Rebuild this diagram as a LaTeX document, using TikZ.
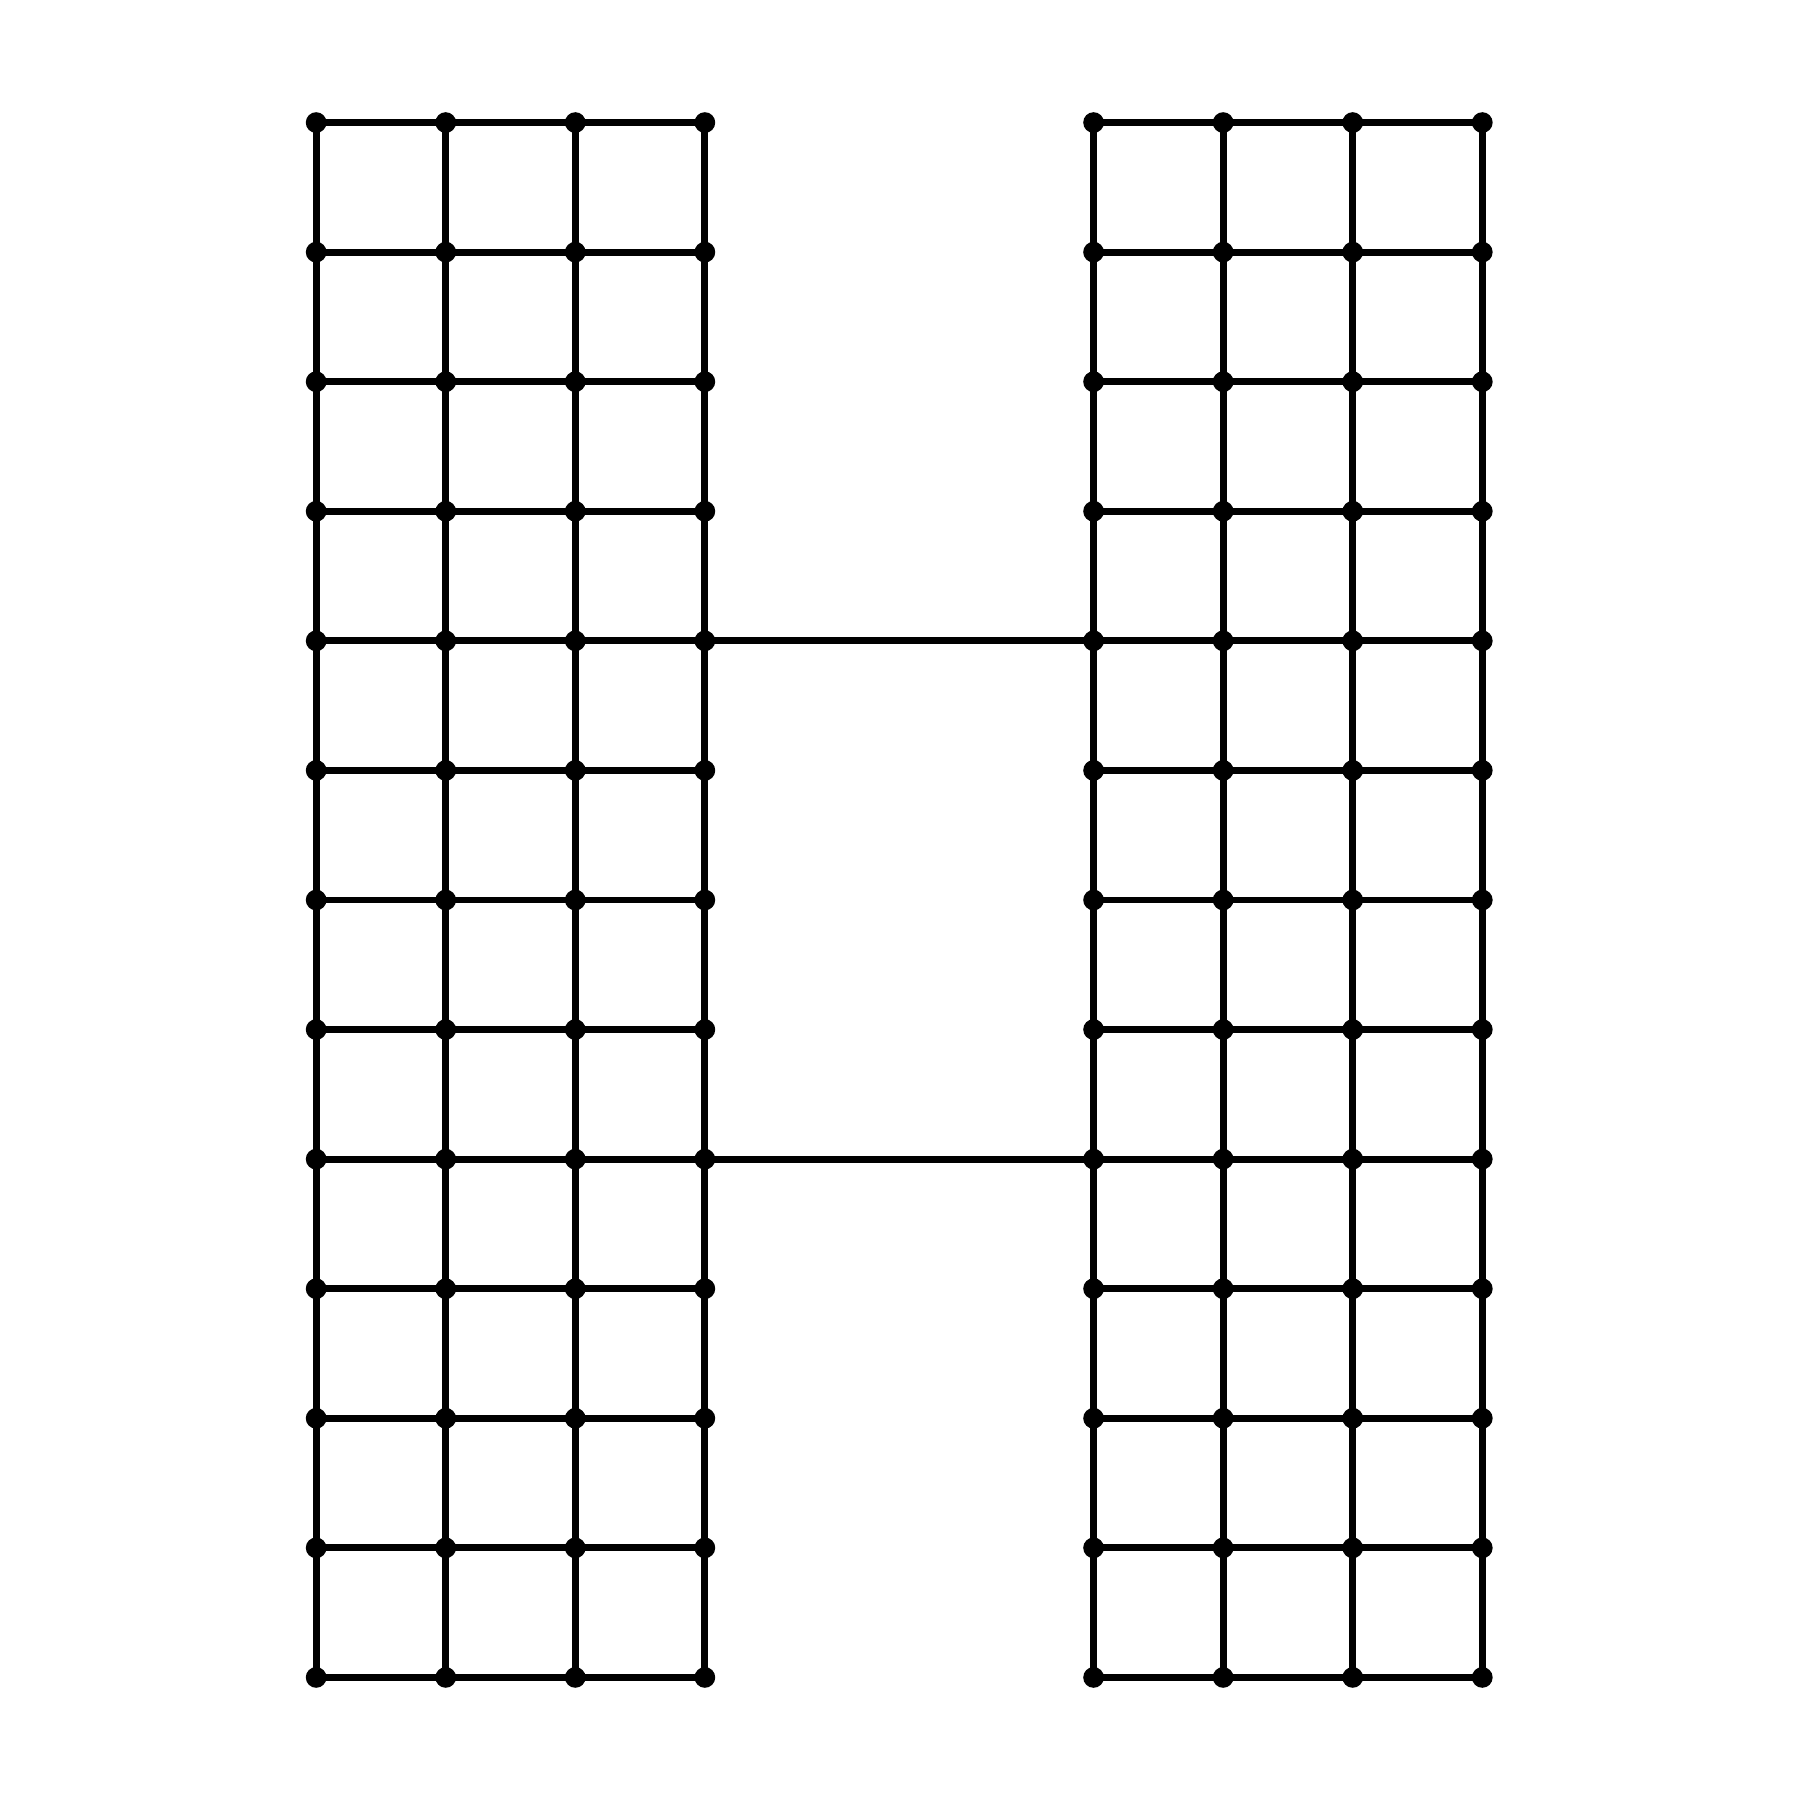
\documentclass[tikz,border=0pt]{standalone}
\usepackage{tikz}

\begin{document}
\begin{tikzpicture}[
    dot/.style={circle, fill=black, inner sep=0pt, minimum size=0.16cm},
    edge/.style={line width=1.5pt, black}
  ]
    \useasboundingbox (-2.44,-0.946) rectangle (11.44,12.946);

    % Nodes of both grids
    \foreach \i in {0,...,3} {
      \foreach \j in {0,...,12} {
        \node[dot] (L-\i-\j) at (\i,\j) {};
        \node[dot] (R-\i-\j) at (\i+6,\j) {};
      }
    }

    % Horizontal edges
    \foreach \i [evaluate=\i as \k using int(\i+1)] in {0,1,2} {
      \foreach \j in {0,...,12} {
        \draw[edge] (L-\i-\j.center) -- (L-\k-\j.center);
        \draw[edge] (R-\i-\j.center) -- (R-\k-\j.center);
      }
    }

    % Vertical edges
    \foreach \i in {0,...,3} {
      \foreach \j [evaluate=\j as \k using int(\j+1)] in {0,...,11} {
        \draw[edge] (L-\i-\j.center) -- (L-\i-\k.center);
        \draw[edge] (R-\i-\j.center) -- (R-\i-\k.center);
      }
    }

    % Bridges
    \draw[edge] (L-3-8.center) -- (R-0-8.center);
    \draw[edge] (L-3-4.center) -- (R-0-4.center);
  \end{tikzpicture}
\end{document}
